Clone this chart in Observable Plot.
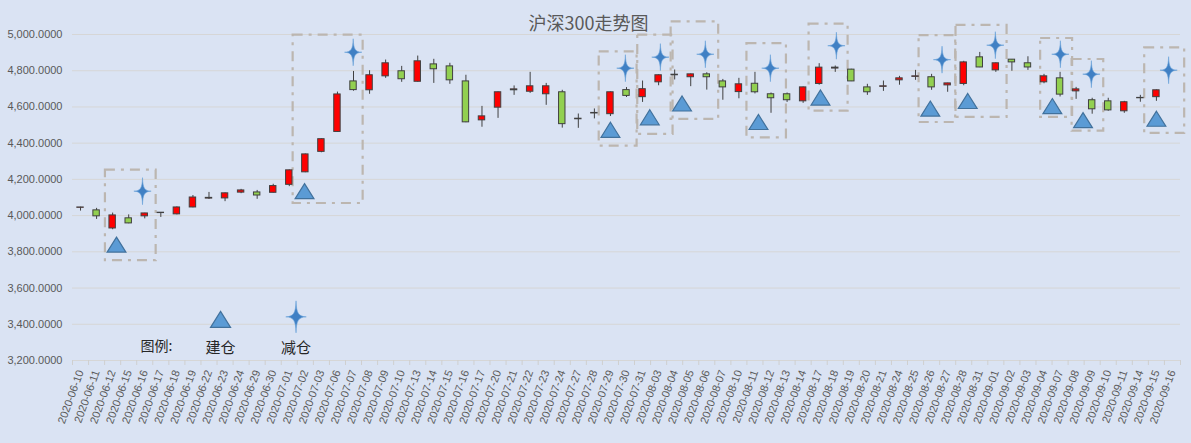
<!DOCTYPE html>
<html>
<head>
<meta charset="utf-8">
<script src="https://cdn.jsdelivr.net/npm/d3@7"></script>
<script src="https://cdn.jsdelivr.net/npm/@observablehq/plot@0.6"></script>
<style>
  html, body { margin: 0; padding: 0; background: #dae3f3; }
  #chart svg { display: block; }
</style>
</head>
<body>
<div id="chart"></div>
<script>
// ---------- data ----------
const title = "沪深300走势图";
const dates = ["2020-06-10","2020-06-11","2020-06-12","2020-06-15","2020-06-16","2020-06-17","2020-06-18","2020-06-19","2020-06-22","2020-06-23","2020-06-24","2020-06-29","2020-06-30","2020-07-01","2020-07-02","2020-07-03","2020-07-06","2020-07-07","2020-07-08","2020-07-09","2020-07-10","2020-07-13","2020-07-14","2020-07-15","2020-07-16","2020-07-17","2020-07-20","2020-07-21","2020-07-22","2020-07-23","2020-07-24","2020-07-27","2020-07-28","2020-07-29","2020-07-30","2020-07-31","2020-08-03","2020-08-04","2020-08-05","2020-08-06","2020-08-07","2020-08-10","2020-08-11","2020-08-12","2020-08-13","2020-08-14","2020-08-17","2020-08-18","2020-08-19","2020-08-20","2020-08-21","2020-08-24","2020-08-25","2020-08-26","2020-08-27","2020-08-28","2020-08-31","2020-09-01","2020-09-02","2020-09-03","2020-09-04","2020-09-07","2020-09-08","2020-09-09","2020-09-10","2020-09-11","2020-09-14","2020-09-15","2020-09-16"];
const openP  = [4043,4029,3929,3985,3996,4014,4007,4045,4094,4095,4127,4128,4126,4170,4239,4352,4462,4741,4692,4769,4797,4739,4835,4824,4741,4526,4596,4692,4684,4670,4681,4532,4564,4560,4693,4654,4736,4775,4764,4780,4741,4682,4728,4670,4670,4631,4727,4812,4806,4708,4711,4747,4766,4764,4719,4727,4874,4802,4861,4841,4736,4758,4686,4637,4631,4576,4648,4654];
const highP  = [4046,4040,4014,4004,4013,4017,4048,4111,4128,4125,4145,4139,4173,4252,4340,4424,4682,4796,4800,4859,4824,4881,4863,4841,4775,4603,4683,4716,4791,4730,4692,4561,4589,4683,4707,4743,4777,4804,4782,4789,4752,4758,4791,4677,4677,4710,4839,4826,4808,4725,4743,4769,4802,4780,4731,4852,4901,4843,4862,4877,4780,4791,4708,4648,4648,4631,4664,4694];
const lowP   = [4025,3979,3922,3955,3982,3990,4004,4043,4089,4077,4121,4090,4125,4160,4237,4347,4460,4687,4670,4758,4736,4737,4730,4725,4513,4488,4537,4664,4675,4609,4483,4482,4534,4547,4652,4625,4717,4749,4712,4693,4637,4645,4672,4565,4625,4620,4720,4791,4740,4664,4686,4720,4747,4692,4681,4717,4817,4791,4797,4802,4728,4655,4642,4560,4576,4565,4626,4631];
const closeP = [4045,3996,4001,3957,4012,4016,4045,4100,4098,4123,4139,4111,4163,4250,4338,4422,4669,4693,4775,4841,4753,4852,4808,4747,4515,4548,4681,4697,4714,4714,4505,4535,4567,4681,4661,4698,4775,4778,4780,4764,4708,4725,4681,4648,4637,4708,4817,4817,4741,4681,4714,4758,4769,4708,4730,4846,4818,4841,4846,4818,4769,4668,4697,4587,4581,4626,4650,4692];

// markers: position in trading-day index units, value on price axis
const buyPos   = [2.24, 13.95, 33.0, 35.45, 37.46, 42.22, 46.08, 52.92, 55.25, 60.52, 62.43, 67.0];
const buyVal   = [3840, 4135, 4474, 4543, 4619, 4517, 4652, 4591, 4633, 4605, 4527, 4535];
const sellPos  = [3.86, 16.98, 33.93, 36.11, 38.91, 42.96, 47.07, 53.65, 56.97, 61.02, 62.95, 67.76];
const sellVal  = [4135, 4902, 4814, 4875, 4891, 4814, 4938, 4861, 4941, 4891, 4781, 4803];

// highlight boxes (day-index start/end, price top/bottom)
const boxStart  = [1.55, 13.24, 32.3, 34.7, 36.78, 41.5, 45.37, 52.22, 54.52, 59.79, 61.75, 66.27];
const boxEnd    = [4.71, 17.6, 34.66, 36.9, 39.74, 43.96, 47.8, 54.5, 57.7, 61.78, 63.72, 68.76];
const boxTop    = [4251, 4996, 4904, 4996, 5070, 4950, 5057, 4994, 5050, 4978, 4862, 4926];
const boxBottom = [3751, 4067, 4384, 4448, 4531, 4429, 4577, 4514, 4542, 4542, 4466, 4454];

const yTicks = [3200, 3400, 3600, 3800, 4000, 4200, 4400, 4600, 4800, 5000];

// legend
const legendTitle = "图例:";
const legendItems = [
  {label: "建仓", kind: "buy", pos: 8.72, val: 3427, textVal: 3266},
  {label: "减仓", kind: "sell", pos: 13.42, val: 3441, textVal: 3266}
];
const legendTitlePos = {pos: 4.73, val: 3277};

// ---------- build tables ----------
const candles = openP.map((o, i) => ({i, open: o, high: highP[i], low: lowP[i], close: closeP[i]}));
const up = candles.filter(d => d.close >= d.open);
const down = candles.filter(d => d.close < d.open);
const buys = buyPos.map((p, k) => ({pos: p, val: buyVal[k]}));
const sells = sellPos.map((p, k) => ({pos: p, val: sellVal[k]}));
const boxes = boxStart.map((s, k) => ({x1: s, x2: boxEnd[k], y1: boxTop[k], y2: boxBottom[k]}));

// custom symbols
const triangleSym = {
  draw(ctx, size) {
    const r = Math.sqrt(size / Math.PI);
    ctx.moveTo(0, -0.8 * r);
    ctx.lineTo(r, 0.8 * r);
    ctx.lineTo(-r, 0.8 * r);
    ctx.closePath();
  }
};
const starSym = {
  draw(ctx, size) {
    const r = Math.sqrt(size / Math.PI);
    const w = r * 0.64, a = r * 0.03, b = r * 0.22, c = w * 0.22;
    ctx.moveTo(0, -r);
    ctx.bezierCurveTo(a, -b, c, -a, w, 0);
    ctx.bezierCurveTo(c, a, a, b, 0, r);
    ctx.bezierCurveTo(-a, b, -c, a, -w, 0);
    ctx.bezierCurveTo(-c, -a, -a, -b, 0, -r);
    ctx.closePath();
  }
};

const n = dates.length;
const boundaries = d3.range(n + 1).map(i => i - 0.5);
const halfW = 0.2;

const chart = Plot.plot({
  width: 1191,
  height: 443,
  marginLeft: 72,
  marginRight: 11,
  marginTop: 34,
  marginBottom: 83,
  style: {background: "#dae3f3", color: "#595959", fontFamily: "'Liberation Sans', Arial, sans-serif", fontSize: "11px", overflow: "visible"},
  x: {domain: [-0.5, n - 0.5], axis: null},
  y: {domain: [3200, 5000], axis: null},
  marks: [
    Plot.ruleY(yTicks, {stroke: "#d6d6d6", strokeWidth: 1}),
    Plot.axisY({ticks: yTicks, tickSize: 0, tickPadding: 10, tickFormat: d3.format(",.4f"), fontSize: 11}),
    Plot.axisX({ticks: boundaries, tickSize: 5, tickFormat: () => "", stroke: "#cfcfcf"}),
    Plot.axisX({ticks: d3.range(n), tickSize: 0, tickPadding: 10, tickRotate: -70, tickFormat: i => dates[i], fontSize: 11}),
    // title
    Plot.text([title], {frameAnchor: "top", dx: -38, dy: -17, fontSize: 18, fill: "#595959", fontFamily: "'Noto Sans CJK SC', sans-serif"}),
    // highlight boxes
    Plot.rect(boxes, {x1: "x1", x2: "x2", y1: "y1", y2: "y2", fill: "none", stroke: "#bcb6b0", strokeWidth: 2.2, strokeDasharray: "10,6,3,6"}),
    // wicks
    Plot.ruleX(candles, {x: "i", y1: "low", y2: "high", stroke: "#404040", strokeWidth: 1}),
    // bodies
    Plot.rect(up, {x1: d => d.i - halfW, x2: d => d.i + halfW, y1: "open", y2: "close", fill: "#ff0000", stroke: "#404040", strokeWidth: 1}),
    Plot.rect(down, {x1: d => d.i - halfW, x2: d => d.i + halfW, y1: "open", y2: "close", fill: "#92d050", stroke: "#404040", strokeWidth: 1}),
    // markers
    Plot.dot(buys, {x: "pos", y: "val", symbol: triangleSym, r: 9.4, fill: "#5b9bd5", stroke: "#41719c", strokeWidth: 1.2}),
    Plot.dot(sells, {x: "pos", y: "val", symbol: starSym, r: 13.5, fill: "#4080c4", stroke: "#6aa3da", strokeWidth: 0.6}),
    // legend
    Plot.text([legendTitle], {x: () => legendTitlePos.pos, y: () => legendTitlePos.val, fontSize: 14, fill: "#262626", fontFamily: "'Noto Sans CJK SC', sans-serif"}),
    Plot.dot(legendItems.filter(d => d.kind === "buy"), {x: "pos", y: "val", symbol: triangleSym, r: 10, fill: "#5b9bd5", stroke: "#41719c", strokeWidth: 1.2}),
    Plot.dot(legendItems.filter(d => d.kind === "sell"), {x: "pos", y: "val", symbol: starSym, r: 16, fill: "#4080c4", stroke: "#6aa3da", strokeWidth: 0.6}),
    Plot.text(legendItems, {x: "pos", y: "textVal", text: "label", fontSize: 15, fill: "#262626", fontFamily: "'Noto Sans CJK SC', sans-serif"})
  ]
});
document.getElementById("chart").appendChild(chart);
</script>
</body>
</html>
